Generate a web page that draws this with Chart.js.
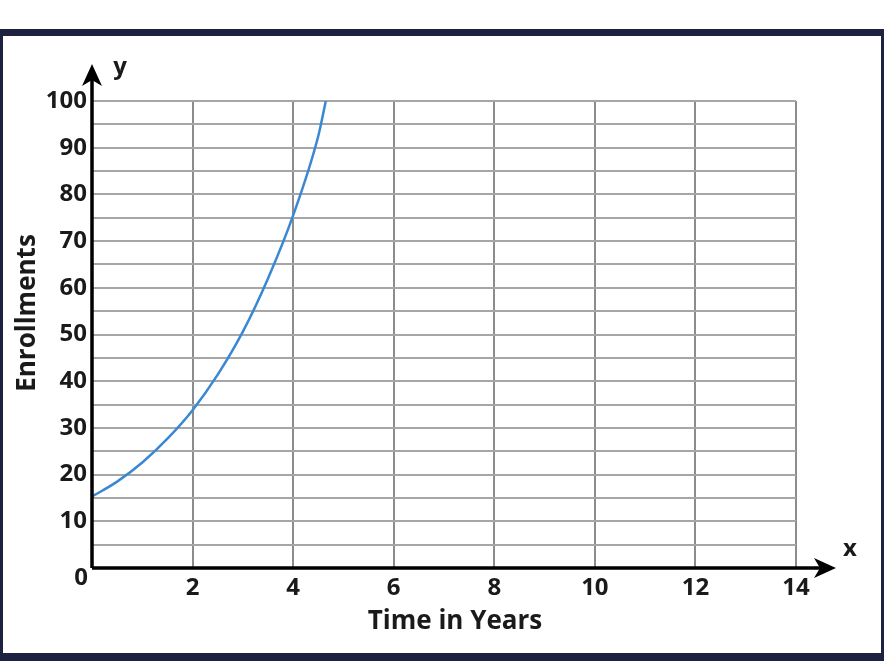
<!DOCTYPE html>
<html>
<head>
<meta charset="utf-8">
<script src="https://cdn.jsdelivr.net/npm/chart.js@4/dist/chart.umd.min.js"></script>
<style>
  html, body { margin: 0; padding: 0; background: #fff; }
  #wrap { width: 884px; height: 663px; }
</style>
</head>
<body>
<div id="wrap"><canvas id="chart" width="884" height="663"></canvas></div>
<script>
// 読み取った値
const years = [0, 0.5, 1, 1.5, 2, 2.5, 3, 3.5, 4, 4.5, 4.65];
const enrollments = [15.3, 18.5, 22.6, 27.7, 33.8, 41.4, 50.6, 62, 75.5, 92.5, 100];
const xTicks = [2, 4, 6, 8, 10, 12, 14];
const yTicks = [10, 20, 30, 40, 50, 60, 70, 80, 90, 100];

const xTitle = 'Time in Years';
const yTitle = 'Enrollments';

const labelFont = 'bold 26px "Open Sans"';
const tickFont = { family: 'Open Sans', size: 24, weight: 'bold' };

// 枠・矢印・軸タイトル
const decorations = {
  id: 'decorations',
  beforeDraw(chart) {
    const ctx = chart.ctx;
    ctx.save();
    ctx.fillStyle = '#fff';
    ctx.fillRect(0, 0, chart.width, chart.height);
    ctx.fillStyle = '#1c2240';
    ctx.fillRect(0, 29, 884, 7);
    ctx.fillRect(0, 653, 884, 8);
    ctx.fillRect(0, 29, 3, 632);
    ctx.fillRect(881, 29, 3, 632);
    ctx.restore();
  },
  afterDraw(chart) {
    const ctx = chart.ctx;
    const x0 = chart.scales.x.getPixelForValue(0);
    const y0 = chart.scales.y.getPixelForValue(0);
    ctx.save();
    ctx.strokeStyle = '#000';
    ctx.fillStyle = '#000';
    ctx.lineWidth = 3.5;
    // 軸
    ctx.beginPath();
    ctx.moveTo(x0, y0);
    ctx.lineTo(822, y0);
    ctx.moveTo(x0, y0);
    ctx.lineTo(x0, 80);
    ctx.stroke();
    // 矢印
    ctx.beginPath();
    ctx.moveTo(836, y0);
    ctx.lineTo(814, y0 - 10);
    ctx.lineTo(820, y0);
    ctx.lineTo(814, y0 + 10);
    ctx.closePath();
    ctx.fill();
    ctx.beginPath();
    ctx.moveTo(x0, 64);
    ctx.lineTo(x0 - 10, 86);
    ctx.lineTo(x0, 80);
    ctx.lineTo(x0 + 10, 86);
    ctx.closePath();
    ctx.fill();

    ctx.fillStyle = '#1a1a1a';
    ctx.textAlign = 'center';
    ctx.textBaseline = 'middle';
    ctx.font = 'bold 24px "Open Sans"';
    ctx.fillText('y', 120, 67);
    ctx.fillText('x', 850, 549);
    ctx.fillText('0', 81, 578);
    ctx.font = labelFont;
    ctx.fillText(xTitle, 455, 622);
    ctx.translate(28, 313);
    ctx.rotate(-Math.PI / 2);
    ctx.fillText(yTitle, 0, 0);
    ctx.restore();
  }
};

const ctx = document.getElementById('chart').getContext('2d');
new Chart(ctx, {
  type: 'line',
  data: {
    datasets: [{
      data: years.map((x, i) => ({ x: x, y: enrollments[i] })),
      borderColor: '#3a88d4',
      borderWidth: 2.5,
      pointRadius: 0,
      cubicInterpolationMode: 'monotone',
      fill: false
    }]
  },
  options: {
    responsive: false,
    animation: false,
    layout: { padding: { top: 101, right: 88, left: 0, bottom: 0 } },
    plugins: { legend: { display: false }, tooltip: { enabled: false } },
    scales: {
      x: {
        type: 'linear',
        min: 0,
        max: 14,
        afterFit(scale) { scale.height = 95; },
        ticks: {
          stepSize: 2,
          padding: 6,
          color: '#1a1a1a',
          font: tickFont,
          autoSkip: false,
          maxRotation: 0,
          callback: v => xTicks.includes(v) ? String(v) : ''
        },
        grid: { color: '#8c8c8c', lineWidth: 2, drawTicks: false },
        border: { display: false }
      },
      y: {
        type: 'linear',
        min: 0,
        max: 100,
        afterFit(scale) { scale.width = 92; },
        ticks: {
          stepSize: 5,
          maxTicksLimit: 30,
          autoSkip: false,
          padding: 5,
          color: '#1a1a1a',
          font: tickFont,
          callback: v => yTicks.includes(v) ? String(v) : ''
        },
        grid: { color: '#a6a6a6', lineWidth: 2, drawTicks: false },
        border: { display: false }
      }
    }
  },
  plugins: [decorations]
});
</script>
</body>
</html>
